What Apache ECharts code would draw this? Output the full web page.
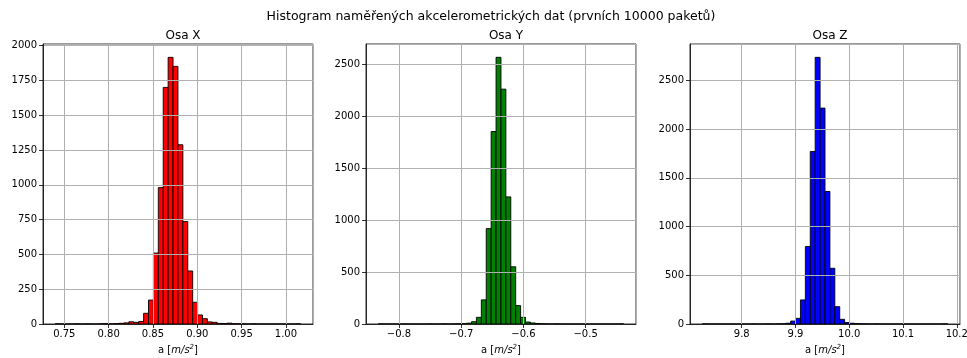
<!DOCTYPE html>
<html>
<head>
<meta charset="utf-8">
<script src="https://cdn.jsdelivr.net/npm/echarts@6/dist/echarts.min.js"></script>
<style>
  html, body { margin: 0; padding: 0; background: #fff; }
  #chart { width: 967px; height: 358px; }
</style>
</head>
<body>
<div id="chart"></div>
<script>
// histogram counts, 50 bins per axis
const countsX = [1, 0, 0, 0, 1, 0, 1, 0, 0, 2, 3, 1, 3, 5, 8, 16, 12, 18, 77, 172,
                 510, 980, 1700, 1916, 1851, 1288, 736, 381, 156, 65, 38, 15, 12, 4, 3, 6, 2, 1, 1, 0,
                 1, 0, 0, 0, 0, 0, 0, 0, 0, 1];
const countsY = [1, 0, 0, 0, 0, 1, 0, 0, 0, 0, 1, 0, 0, 1, 0, 1, 2, 3, 8, 22,
                 64, 232, 917, 1850, 2564, 2258, 1222, 550, 177, 64, 19, 10, 5, 2, 1, 0, 1, 0, 0, 0,
                 0, 0, 0, 0, 0, 0, 0, 0, 0, 1];
const countsZ = [1, 0, 0, 0, 0, 0, 0, 0, 0, 0, 1, 0, 0, 1, 0, 1, 2, 8, 30, 58,
                 247, 795, 1771, 2737, 2216, 1360, 572, 178, 48, 15, 8, 4, 2, 1, 0, 1, 0, 0, 0, 0,
                 0, 0, 0, 0, 0, 0, 0, 0, 0, 1];

// data ranges of the bins
const rangeX = [0.7398, 1.0166];
const rangeY = [-0.8333, -0.4388];
const rangeZ = [9.7266, 10.1832];

// axis limits
const xLimX = [0.7260, 1.0305];
const xLimY = [-0.853, -0.419];
const xLimZ = [9.7038, 10.206];
const yMaxX = 2012;
const yMaxY = 2692;
const yMaxZ = 2874;
const yStepX = 250;
const yStepY = 500;
const yStepZ = 500;

const titles = ['Osa X', 'Osa Y', 'Osa Z'];
const colors = ['#ff0000', '#008000', '#0000ff'];
const mainTitle = 'Histogram naměřených akcelerometrických dat (prvních 10000 paketů)';

const FONT = 'DejaVu Sans';

function toBins(counts, range) {
    const w = (range[1] - range[0]) / counts.length;
    return counts.map((c, i) => [range[0] + i * w, range[0] + (i + 1) * w, c]);
}

function renderBin(params, api) {
    const lo = api.coord([api.value(0), api.value(2)]);
    const hi = api.coord([api.value(1), 0]);
    return {
        type: 'rect',
        shape: { x: lo[0], y: lo[1], width: hi[0] - lo[0], height: hi[1] - lo[1] },
        style: { fill: api.visual('color'), stroke: '#000', lineWidth: 0.9 }
    };
}

const lefts = [43, 366, 690];
const W = 270;
const sets = [
    { counts: countsX, range: rangeX, xLim: xLimX, yMax: yMaxX, yStep: yStepX, fmt: v => v.toFixed(2) },
    { counts: countsY, range: rangeY, xLim: xLimY, yMax: yMaxY, yStep: yStepY, fmt: v => v.toFixed(1).replace('-', '\u2212') },
    { counts: countsZ, range: rangeZ, xLim: xLimZ, yMax: yMaxZ, yStep: yStepZ, fmt: v => v.toFixed(1) }
];

const gridLine = { show: true, lineStyle: { color: '#b0b0b0', width: 1 } };
const axisLine = { show: true, onZero: false, lineStyle: { color: '#000', width: 0.8 } };
const axisTick = { show: true, inside: false, length: 4, lineStyle: { color: '#000', width: 0.8 } };

const option = {
    animation: false,
    backgroundColor: '#fff',
    textStyle: { fontFamily: FONT },
    title: [
        { text: mainTitle, left: 486, top: 5, textAlign: 'center',
          textStyle: { fontFamily: FONT, fontSize: 12.5, fontWeight: 'normal', color: '#000' } }
    ].concat(titles.map((t, i) => ({
        text: t, left: lefts[i] + W / 2, top: 25, textAlign: 'center',
        textStyle: { fontFamily: FONT, fontSize: 12, fontWeight: 'normal', color: '#000' }
    }))),
    grid: lefts.map(l => ({
        left: l, top: 44, width: W, height: 280,
        show: true, borderColor: '#000', borderWidth: 0.8,
        outerBoundsMode: 'none'
    })),
    xAxis: sets.map((s, i) => ({
        type: 'value', gridIndex: i, z: 5,
        min: s.xLim[0], max: s.xLim[1],
        name: 'a [{i|m/s}{s|2}]',
        nameLocation: 'middle', nameGap: 20,
        nameTextStyle: {
            fontFamily: FONT, fontSize: 10, color: '#000',
            rich: {
                i: { fontFamily: FONT, fontSize: 10, fontStyle: 'italic', color: '#000' },
                s: { fontFamily: FONT, fontSize: 7, fontStyle: 'italic', color: '#000', padding: [0, 0, 6, 0] }
            }
        },
        axisLine: axisLine, axisTick: axisTick, splitLine: gridLine,
        axisLabel: { show: true, fontFamily: FONT, fontSize: 10, color: '#000', margin: 5,
                     showMinLabel: false, showMaxLabel: false, formatter: s.fmt }
    })),
    yAxis: sets.map((s, i) => ({
        type: 'value', gridIndex: i, z: 5,
        min: 0, max: s.yMax, interval: s.yStep,
        axisLine: axisLine, axisTick: axisTick, splitLine: gridLine,
        axisLabel: { show: true, fontFamily: FONT, fontSize: 10, color: '#000', margin: 6,
                     showMaxLabel: false, formatter: v => String(v) }
    })),
    series: sets.map((s, i) => ({
        type: 'custom', xAxisIndex: i, yAxisIndex: i, z: 2,
        itemStyle: { color: colors[i] },
        renderItem: renderBin,
        encode: { x: [0, 1], y: 2 },
        data: toBins(s.counts, s.range)
    }))
};

const chart = echarts.init(document.getElementById('chart'), null, { renderer: 'canvas' });
chart.setOption(option);
</script>
</body>
</html>
